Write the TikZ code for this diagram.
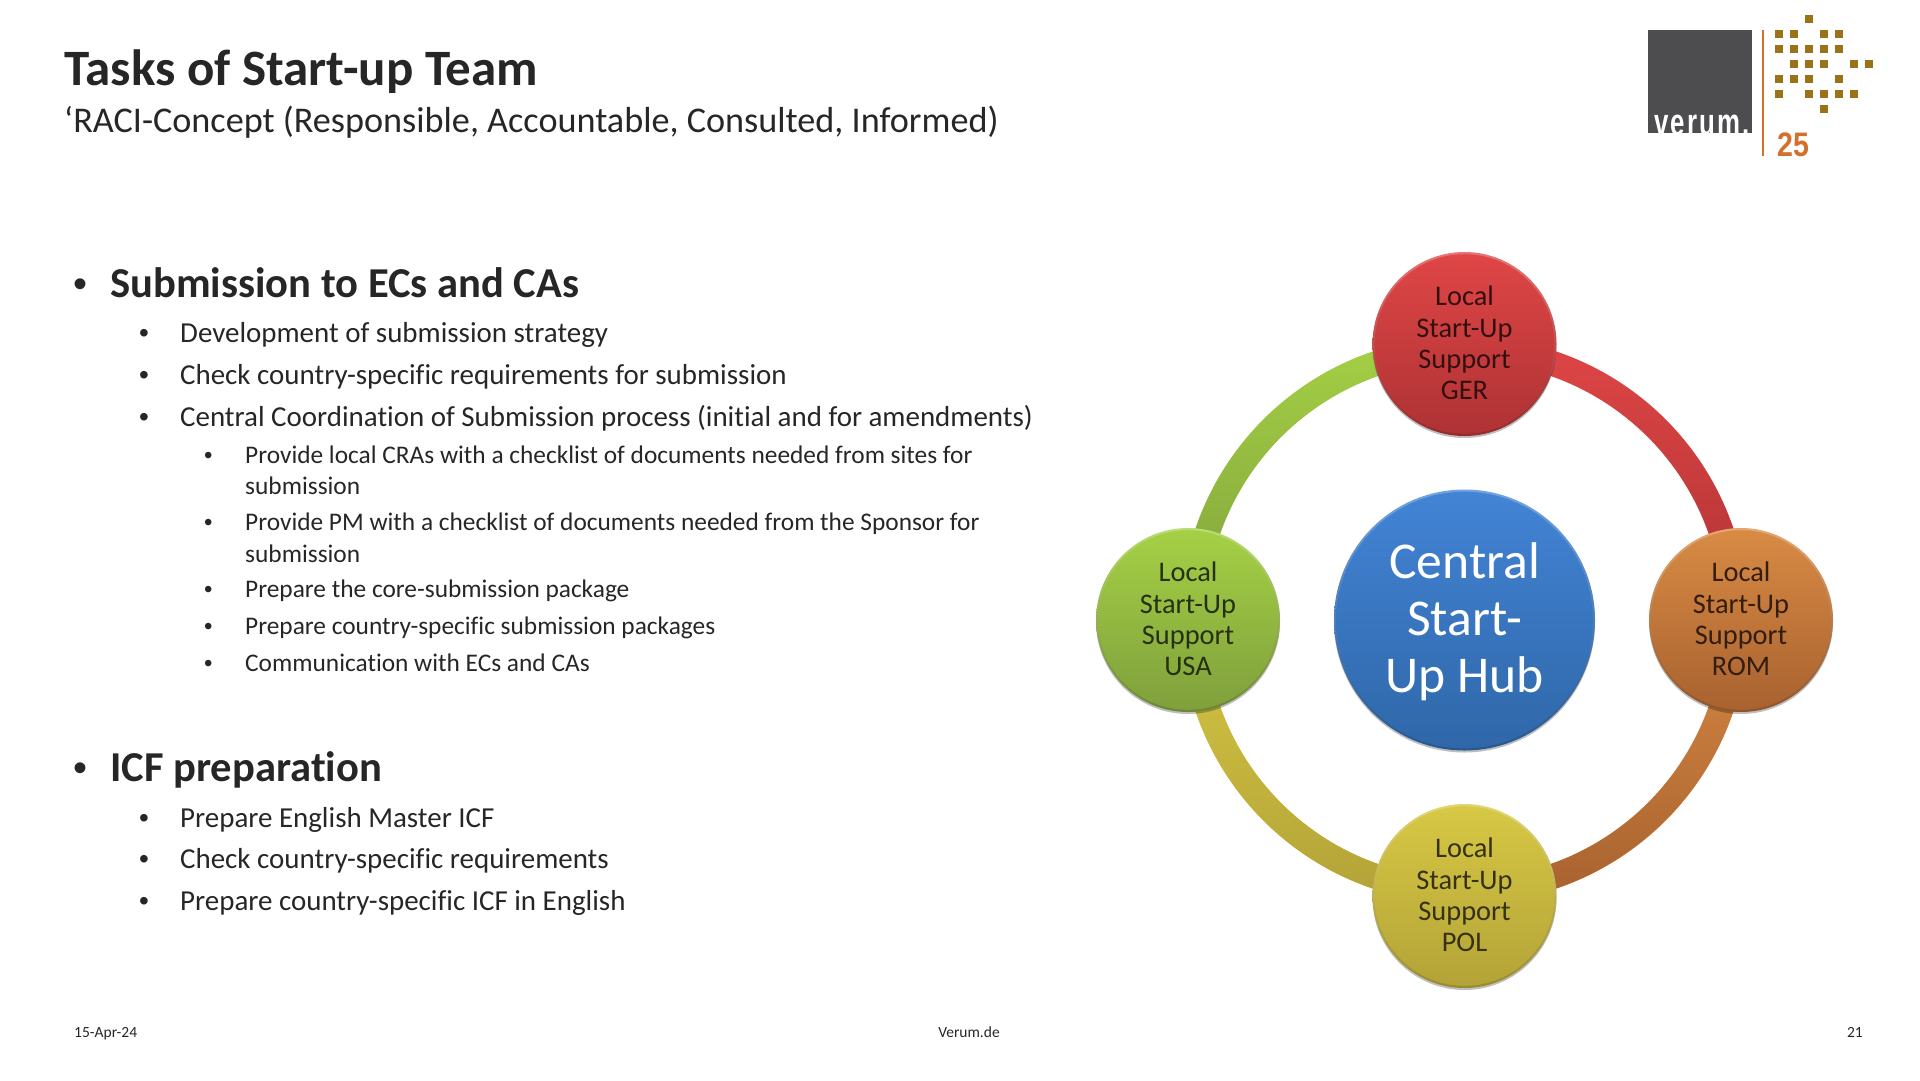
\documentclass[tikz,border=0pt]{standalone}
\usepackage{fontspec}
\setmainfont{Carlito}[Ligatures=NoCommon]
\newfontfamily\logofont{Liberation Sans}
\usetikzlibrary{shadows,fadings,backgrounds}
\definecolor{ink}{HTML}{262626}
\definecolor{logogray}{HTML}{4D4D4F}
\definecolor{logogold}{HTML}{9A7318}
\definecolor{logoorange}{HTML}{D5702C}
\newcommand{\fs}[1]{\fontsize{#1}{#1}\selectfont}
\newcommand{\bul}{{\logofont •}}
\newcommand{\upshift}{\rule[-2pt]{0pt}{0pt}}
\tikzset{
  x=1pt,y=-1pt,
  txt/.style={anchor=base west,inner sep=0pt,text=ink},
  head/.style={txt,font=\fs{42.6}\bfseries},
  second/.style={txt,font=\fs{28.95}},
  third/.style={txt,font=\fs{25.37}},
  foot/.style={inner sep=0pt,text=ink,font=\fs{15.5}},
  ball/.style args={#1/#2/#3/#4/#5}{circle,inner sep=0pt,minimum size=#1*2pt,align=center,
    top color=#2!75!white,bottom color=#3!85!black,
    drop shadow={shadow xshift=0pt,shadow yshift=-2pt,opacity=.25,fill=black},
    path picture={\shade[top color=#2,bottom color=#3] (path picture bounding box.center) circle (#1pt-2.2pt);},
    text=#4,font=\fs{#5}},
  ringpart/.style={line width=25pt,line cap=butt},
}
\definecolor{redT}{HTML}{E04646}\definecolor{redB}{HTML}{AE3234}
\definecolor{orgT}{HTML}{D98B45}\definecolor{orgB}{HTML}{A8622F}
\definecolor{yelT}{HTML}{D7C844}\definecolor{yelB}{HTML}{B3A338}
\definecolor{grnT}{HTML}{A5D145}\definecolor{grnB}{HTML}{7F9F3C}
\definecolor{bluT}{HTML}{4384D6}\definecolor{bluB}{HTML}{2F67A8}
\begin{document}
\begin{tikzpicture}
\useasboundingbox (0,0) rectangle (1920,1080);
% title
\node[txt,font=\fs{51}\bfseries] (title) at (64,85) {Tasks of Start-up Team};
\node[txt,font=\fs{36.2}] (subtitle) at (64,132) {‘RACI-Concept (Responsible, Accountable, Consulted, Informed)};
% logo
\fill[logogray] (1648,30) rectangle (1752,133);
\begin{scope}
\clip (1648,30) rectangle (1752,133);
\node[anchor=base,inner sep=0pt,text=white,font=\logofont\bfseries\fs{38}] (logotext) at (1702,135) {\scalebox{0.68}[1]{\addfontfeatures{LetterSpace=8}verum.}};
\end{scope}
\draw[logoorange,line width=2pt] (1763,30) -- (1763,156);
\foreach \cx/\cy in {2/0, 0/1,1/1,3/1,4/1, 0/2,1/2,2/2,3/2,4/2, 1/3,2/3,3/3,5/3,6/3, 0/4,1/4,2/4,4/4, 0/5,2/5,3/5,4/5,5/5, 3/6}
  \fill[logogold] ({1775+15*\cx},{15+15*\cy}) rectangle ++(8,8);
\node[anchor=base west,inner sep=0pt,text=logoorange,font=\logofont\bfseries\fs{34}] (logoyears) at (1777,156) {\scalebox{0.84}[1]{25}};
% bullets
\node[txt,font=\fs{40}] (b1) at (73,297) {\bul};
\node[head] (h1) at (110,297) {Submission to ECs and CAs};
\node[txt,font=\fs{28}] (b2) at (139,342) {\bul};
\node[second] (l2) at (180,342) {Development of submission strategy};
\node[txt,font=\fs{28}] (b3) at (139,384) {\bul};
\node[second] (l3) at (180,384) {Check country-specific requirements for submission};
\node[txt,font=\fs{28}] (b4) at (139,426) {\bul};
\node[second] (l4) at (180,426) {Central Coordination of Submission process (initial and for amendments)};
\node[txt,font=\fs{24}] (b5) at (204,463) {\bul};
\node[third] (l5) at (245,463) {Provide local CRAs with a checklist of documents needed from sites for};
\node[third] (l5b) at (245,494.5) {submission};
\node[txt,font=\fs{24}] (b6) at (204,530) {\bul};
\node[third] (l6) at (245,530) {Provide PM with a checklist of documents needed from the Sponsor for};
\node[third] (l6b) at (245,562) {submission};
\node[txt,font=\fs{24}] (b7) at (204,597) {\bul};
\node[third] (l7) at (245,597) {Prepare the core-submission package};
\node[txt,font=\fs{24}] (b8) at (204,634) {\bul};
\node[third] (l8) at (245,634) {Prepare country-specific submission packages};
\node[txt,font=\fs{24}] (b9) at (204,671) {\bul};
\node[third] (l9) at (245,671) {Communication with ECs and CAs};
\node[txt,font=\fs{40}] (b10) at (73,781) {\bul};
\node[head] (h2) at (110,781) {ICF preparation};
\node[txt,font=\fs{28}] (b11) at (139,827) {\bul};
\node[second] (l11) at (180,827) {Prepare English Master ICF};
\node[txt,font=\fs{28}] (b12) at (139,868) {\bul};
\node[second] (l12) at (180,868) {Check country-specific requirements};
\node[txt,font=\fs{28}] (b13) at (139,910) {\bul};
\node[second] (l13) at (180,910) {Prepare country-specific ICF in English};
% footer
\node[foot,anchor=base west] (date) at (74,1037) {15-Apr-24};
\node[foot,anchor=base] (site) at (969,1037) {Verum.de};
\node[foot,anchor=base east] (page) at (1863,1037) {21};
% diagram
\node[ball={130.5/bluT/bluB/white/51.6}] (hub) at (1464.5,620) {\rule{0pt}{38.5pt}Central\\[5.4pt]Start-\\[5.4pt]Up Hub};
\node[ball={92/redT/redB/black!70!redB/28.4}] (ger) at (1464.5,344) {Local\\[3pt]Start-Up\\[3pt]Support\\[3pt]GER\upshift};
\node[ball={92/orgT/orgB/black!70!orgB/28.4}] (rom) at (1741,620) {Local\\[3pt]Start-Up\\[3pt]Support\\[3pt]ROM\upshift};
\node[ball={92/yelT/yelB/black!70!yelB/28.4}] (pol) at (1464.5,896) {Local\\[3pt]Start-Up\\[3pt]Support\\[3pt]POL\upshift};
\node[ball={92/grnT/grnB/black!70!grnB/28.4}] (usa) at (1188,620) {Local\\[3pt]Start-Up\\[3pt]Support\\[3pt]USA\upshift};
\begin{scope}[on background layer]
\draw[ringpart,redT] ([yshift=-5pt]ger.center) to[bend left=45] ([xshift=-5pt]rom.center);
\draw[ringpart,redB,path fading=north] ([yshift=-5pt]ger.center) to[bend left=45] ([xshift=-5pt]rom.center);
\draw[ringpart,orgT] ([xshift=-5pt]rom.center) to[bend left=45] ([yshift=5pt]pol.center);
\draw[ringpart,orgB,path fading=north] ([xshift=-5pt]rom.center) to[bend left=45] ([yshift=5pt]pol.center);
\draw[ringpart,yelT] ([yshift=5pt]pol.center) to[bend left=45] ([xshift=5pt]usa.center);
\draw[ringpart,yelB,path fading=north] ([yshift=5pt]pol.center) to[bend left=45] ([xshift=5pt]usa.center);
\draw[ringpart,grnT] ([xshift=5pt]usa.center) to[bend left=45] ([yshift=-5pt]ger.center);
\draw[ringpart,grnB,path fading=north] ([xshift=5pt]usa.center) to[bend left=45] ([yshift=-5pt]ger.center);
\end{scope}
\end{tikzpicture}
\end{document}
